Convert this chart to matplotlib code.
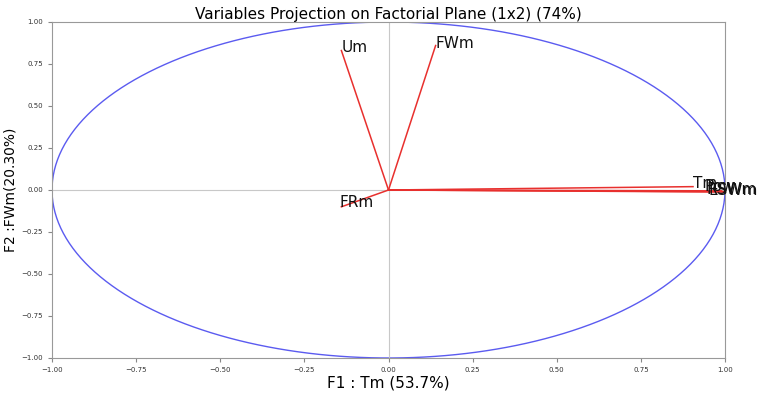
import numpy as np
import matplotlib
matplotlib.use("Agg")
import matplotlib.pyplot as plt

# variable coordinates on factorial plane (F1, F2)
var_names = ["Um", "FWm", "FRm", "Tm", "Pow", "RSWm", "ESWm"]
f1 = [-0.14, 0.14, -0.14, 0.905, 0.99, 0.995, 0.998]
f2 = [0.83, 0.86, -0.10, 0.02, -0.005, -0.01, -0.012]
label_x = [-0.14, 0.14, -0.145, 0.905, 0.94, 0.945, 0.95]
label_y = [0.85, 0.87, -0.075, 0.04, 0.02, 0.0, -0.005]

title = "Variables Projection on Factorial Plane (1x2) (74%)"
xlab = "F1 : Tm (53.7%)"
ylab = "F2 :FWm(20.30%)"

fig = plt.figure(figsize=(7.59, 3.95), dpi=100)
ax = fig.add_axes([52 / 759, 1 - 358 / 395, 673 / 759, 336 / 395])

t = np.linspace(0, 2 * np.pi, 400)
ax.plot(np.cos(t), np.sin(t), color="#5b5bf0", lw=1)
ax.axhline(0, color="#c8c8c8", lw=0.8)
ax.axvline(0, color="#c8c8c8", lw=0.8)

for i in range(len(var_names)):
    ax.plot([0, f1[i]], [0, f2[i]], color="#e8302e", lw=1.1)
    ax.text(label_x[i], label_y[i], var_names[i], fontsize=11,
            ha="left", va="center", color="#111111")

ax.set_xlim(-1, 1)
ax.set_ylim(-1, 1)
ax.set_xticks(np.arange(-1, 1.01, 0.25))
ax.set_yticks(np.arange(-1, 1.01, 0.25))
ax.tick_params(labelsize=5, length=3, color="#888888", labelcolor="#333333")
for s in ax.spines.values():
    s.set_color("#999999")
ax.set_title(title, fontsize=11, pad=2)
ax.set_xlabel(xlab, fontsize=11, labelpad=2)
ax.set_ylabel(ylab, fontsize=10)
ax.yaxis.set_label_coords(-0.052, 0.5)

fig.savefig("out.png", dpi=100)
